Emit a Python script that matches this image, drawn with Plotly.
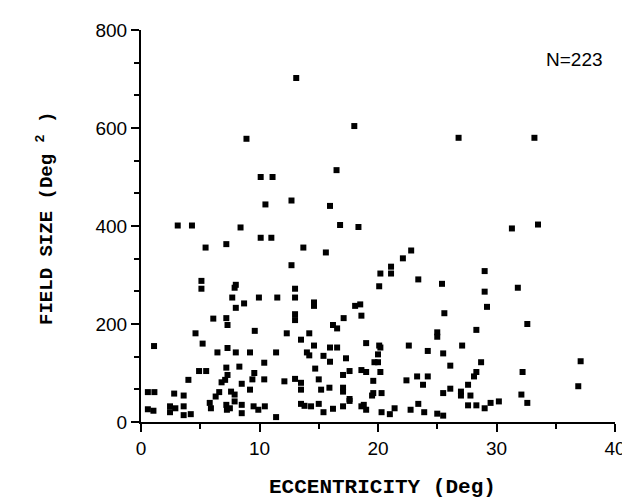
import plotly.graph_objects as go

# Eccentricity (deg) and field size (deg^2)
ecc = [13.1, 18.0, 8.9, 10.1, 11.1, 16.5, 10.5, 12.7, 15.95, 3.1, 4.3, 8.4, 16.8, 18.35,
       10.1, 11.0, 7.2, 5.45, 13.7, 26.8, 33.2, 31.3, 33.5, 22.8,
       15.6, 12.7, 5.1, 5.1, 8.0, 7.9, 7.7, 9.95, 11.5, 13.0, 13.0, 8.7, 8.0, 14.6, 14.6,
       6.1, 7.2, 7.3, 13.0, 13.0, 4.6, 9.6, 12.3, 13.5, 14.2, 5.2, 1.1, 6.45, 7.3, 8.0,
       9.2, 11.4, 14.0, 14.2, 14.6, 15.4, 15.95, 15.95, 16.55, 16.2, 16.55, 17.1, 18.07,
       18.5, 18.6, 17.3, 17.6, 17.05, 17.05, 17.05, 17.6, 17.05, 18.6, 18.6, 14.7, 15.0,
       15.2, 15.9, 15.0, 15.4, 16.2, 13.5, 13.0, 13.5, 13.5, 13.8, 14.35, 12.1, 11.4,
       10.4, 10.4, 9.56, 9.4, 9.2, 8.5, 8.3, 9.5, 9.9, 10.45, 8.5, 8.5, 7.6, 7.9, 7.3,
       7.1, 6.8, 7.2, 6.6, 6.3, 5.8, 5.9, 7.2, 7.25, 7.5, 7.9, 5.5, 4.9, 4.0, 2.8, 3.6,
       3.6, 3.6, 4.2, 2.45, 2.45, 2.9, 0.58, 1.13, 0.58, 1.05,
       22.1, 21.1, 21.1, 20.2, 20.1, 23.4, 25.4, 29.0, 29.0, 29.2, 31.8, 32.6, 25.6,
       28.3, 25.0, 25.0, 19.0, 20.1, 20.2, 20.0, 22.6, 24.2, 25.5, 27.1, 19.7, 20.0,
       26.1, 28.7, 37.1, 19.0, 20.2, 19.6, 22.4, 23.3, 24.2, 23.8, 28.3, 28.1, 27.6,
       32.2, 36.9, 17.6, 19.6, 19.5, 20.3, 18.8, 19.0, 20.3, 21.0, 21.4, 22.75, 23.4,
       23.9, 25.0, 25.5, 25.5, 26.1, 27.0, 27.0, 27.8, 27.6, 28.3, 29.0, 29.5, 30.2,
       32.1, 32.6]
size = [702, 604, 578, 500, 500, 514, 444, 452, 441, 401, 401, 397, 402, 398,
        376, 376, 363, 356, 356, 580, 580, 395, 403, 350,
        346, 320, 288, 272, 280, 274, 254, 254, 254, 272, 254, 242, 233, 244, 237,
        211, 212, 198, 220, 208, 181, 186, 181, 168, 181, 160, 155, 142, 151, 142,
        142, 142, 142, 136, 156, 135, 123, 152, 152, 198, 191, 212, 237,
        240, 217, 130, 104, 96, 70, 62, 47, 32, 106, 32, 109, 87,
        66, 70, 37, 20, 27, 80, 88, 66, 37, 33, 32, 83, 10,
        121, 87, 100, 87, 66, 78, 113, 32, 25, 32, 35, 18, 62, 56, 96,
        86, 81, 111, 61, 52, 39, 28, 35, 25, 28, 42, 104, 104, 86, 58, 54,
        32, 14, 16, 32, 20, 28, 61, 61, 26, 23,
        334, 317, 303, 303, 277, 291, 282, 308, 266, 235, 274, 200, 222,
        188, 183, 174, 161, 156, 152, 138, 156, 145, 140, 156, 122, 122,
        115, 122, 124, 102, 102, 84, 85, 93, 93, 76, 102, 93, 76,
        102, 73, 43, 59, 54, 59, 35, 25, 20, 16, 28, 25, 37,
        20, 17, 13, 59, 68, 62, 54, 54, 34, 34, 28, 39, 42,
        56, 39]

x_ticks = [0, 10, 20, 30, 40]
y_ticks = [0, 200, 400, 600, 800]

fig = go.Figure()
fig.add_trace(go.Scatter(
    x=ecc, y=size, mode="markers",
    marker=dict(symbol="square", size=6, color="black", line=dict(width=0)),
    showlegend=False, hoverinfo="x+y",
))

tick_font = dict(family="Liberation Sans, Arial, sans-serif", size=19, color="black")

fig.update_xaxes(
    range=[0, 40], tickvals=x_ticks, ticktext=[str(v) for v in x_ticks],
    showline=True, linecolor="black", linewidth=2, mirror=False,
    ticks="outside", ticklen=8, tickwidth=2, tickcolor="black",
    minor=dict(dtick=5, tick0=0, ticks="outside", ticklen=5, tickwidth=2, tickcolor="black"),
    showgrid=False, zeroline=False, tickfont=tick_font,
)
fig.update_yaxes(
    range=[0, 800], tickvals=y_ticks, ticktext=[str(v) for v in y_ticks],
    showline=True, linecolor="black", linewidth=2, mirror=False,
    ticks="outside", ticklen=8, tickwidth=2, tickcolor="black",
    minor=dict(dtick=200 / 3, tick0=0, ticks="outside", ticklen=5, tickwidth=2, tickcolor="black"),
    showgrid=False, zeroline=False, tickfont=tick_font,
)

mono = "Liberation Mono, Courier New, monospace"

fig.update_layout(
    width=630, height=499,
    margin=dict(l=133, r=13, t=21, b=85),
    plot_bgcolor="white", paper_bgcolor="white",
    annotations=[
        dict(text="<b>ECCENTRICITY (Deg)</b>", xref="paper", yref="paper",
             x=0.51, y=-0.168, xanchor="center", yanchor="middle",
             showarrow=False, font=dict(family=mono, size=21, color="black")),
        dict(text="<b>FIELD SIZE (Deg <sup>2</sup> )</b>", xref="paper", yref="paper",
             x=-0.203, y=0.52, xanchor="center", yanchor="middle", textangle=-90,
             showarrow=False, font=dict(family=mono, size=19, color="black")),
        dict(text="N=223", xref="paper", yref="paper",
             x=0.915, y=0.926, xanchor="center", yanchor="middle",
             showarrow=False, font=dict(family="Liberation Sans, Arial, sans-serif",
                                        size=19, color="black")),
    ],
)

fig.write_html("out.html")
